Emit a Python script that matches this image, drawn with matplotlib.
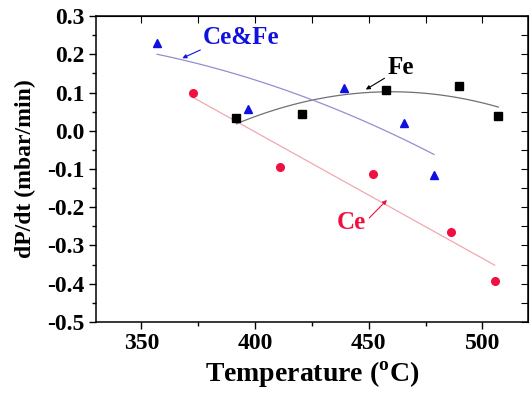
import numpy as np
import matplotlib
matplotlib.use('Agg')
import matplotlib.pyplot as plt
from matplotlib.ticker import MultipleLocator

plt.rcParams['font.family'] = ['Liberation Serif', 'DejaVu Serif']
plt.rcParams['font.weight'] = 'bold'
plt.rcParams['axes.labelweight'] = 'bold'
plt.rcParams['mathtext.fontset'] = 'custom'
plt.rcParams['mathtext.rm'] = 'Liberation Serif:bold'

# data
fe_t = [391.8, 420.7, 457.6, 489.7, 507.0]
fe_r = [0.033, 0.045, 0.108, 0.118, 0.039]
cefe_t = [356.9, 396.9, 439.0, 465.4, 478.7]
cefe_r = [0.230, 0.057, 0.111, 0.021, -0.116]
ce_t = [372.6, 410.9, 452.0, 486.3, 505.4]
ce_r = [0.100, -0.096, -0.113, -0.264, -0.393]
yticks = [-0.5, -0.4, -0.3, -0.2, -0.1, 0.0, 0.1, 0.2, 0.3]

fig = plt.figure(figsize=(5.3, 3.94), dpi=100)
ax = fig.add_axes([0.181, 0.183, 0.815, 0.776])

# fitted trend lines
def fit_line(t, r, deg, color):
	c = np.polyfit(t, r, deg)
	xx = np.linspace(min(t), max(t), 100)
	ax.plot(xx, np.polyval(c, xx), color=color, lw=0.9, zorder=1)

fit_line(fe_t, fe_r, 2, '#707070')
fit_line(cefe_t, cefe_r, 2, '#9090d0')
fit_line(ce_t, ce_r, 1, '#f0a8b0')

ax.plot(fe_t, fe_r, 's', color='black', ms=5.5, zorder=3)
ax.plot(cefe_t, cefe_r, '^', color='#1010e0', ms=6, zorder=3)
ax.plot(ce_t, ce_r, 'o', color='#f01040', ms=5.5, zorder=3)

# labels with little arrows
arr = dict(arrowstyle='-|>', lw=0.8, mutation_scale=6, shrinkA=0, shrinkB=0)
ax.annotate('Ce&Fe', xy=(368, 0.19), xytext=(394, 0.245), color='#1010e0',
	fontsize=18, ha='center', va='center',
	arrowprops=dict(arr, color='#1010e0', relpos=(0.1, 0.15)))
ax.annotate('Fe', xy=(448.7, 0.108), xytext=(464, 0.166), color='black',
	fontsize=18, ha='center', va='center',
	arrowprops=dict(arr, color='black', relpos=(0.0, 0.1)))
ax.annotate('Ce', xy=(458, -0.181), xytext=(442.5, -0.24), color='#f01040',
	fontsize=18, ha='center', va='center',
	arrowprops=dict(arr, color='#f01040', relpos=(1.1, 0.7)))

ax.set_xlim(330, 520)
ax.set_ylim(-0.5, 0.3)
ax.xaxis.set_major_locator(MultipleLocator(50))
ax.xaxis.set_minor_locator(MultipleLocator(25))
ax.yaxis.set_minor_locator(MultipleLocator(0.05))
ax.set_yticks(yticks)
ax.set_yticklabels(['%.1f' % v for v in yticks])
ax.tick_params(which='both', direction='out', labelsize=17, width=1, pad=3)
ax.tick_params(which='major', length=5)
ax.tick_params(which='minor', length=3)
for s in ax.spines.values():
	s.set_linewidth(1.1)

# mirrored ticks on top and right, pointing inward
sec = ax.secondary_xaxis('top')
sec.xaxis.set_major_locator(MultipleLocator(25))
sec.tick_params(direction='in', length=5, labeltop=False)
sec2 = ax.secondary_yaxis('right')
sec2.yaxis.set_major_locator(MultipleLocator(0.05))
sec2.tick_params(direction='in', length=5, labelright=False)

ax.set_xlabel(r'Temperature ($^{\mathrm{o}}$C)', fontsize=20, labelpad=4)
ax.set_ylabel('dP/dt (mbar/min)', fontsize=17, labelpad=8)

fig.savefig('out.png', dpi=100)
